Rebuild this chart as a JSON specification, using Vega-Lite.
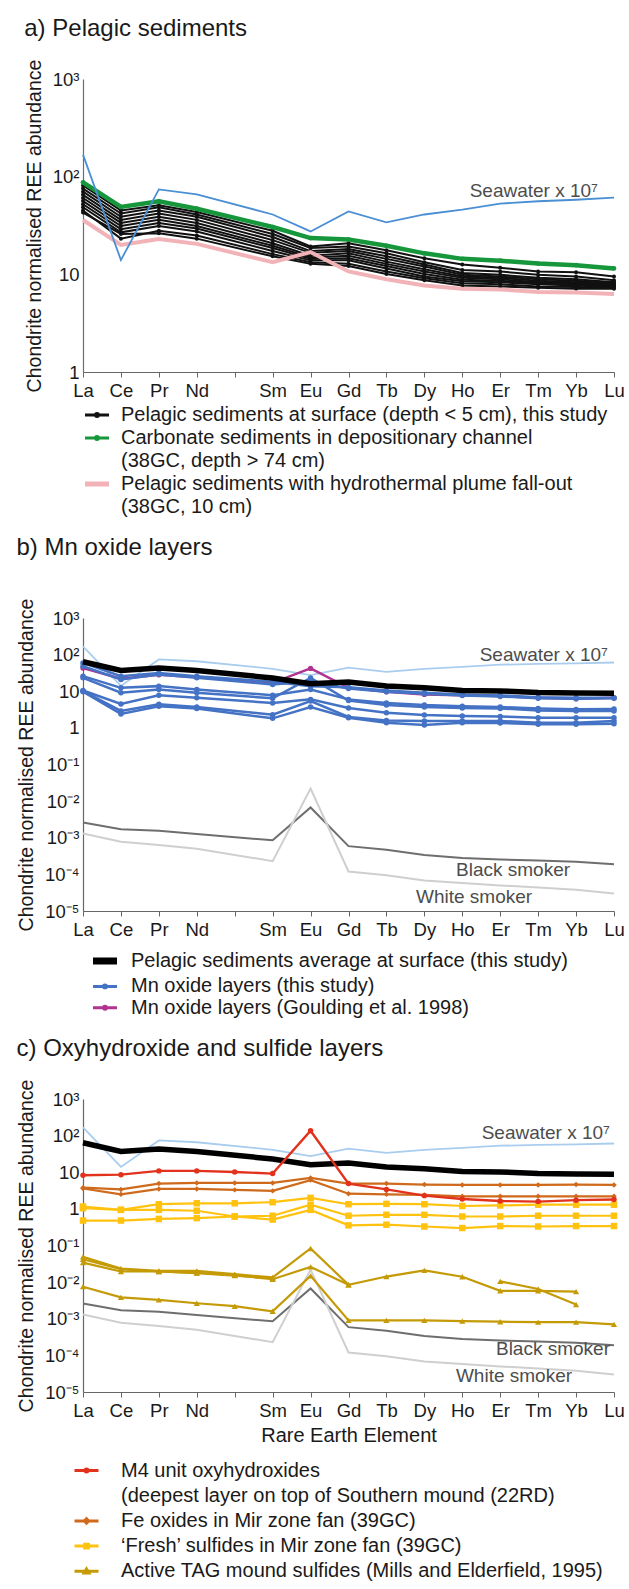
{
  "$schema": "https://vega.github.io/schema/vega-lite/v6.json",
  "padding": {"left": 16, "top": 17, "right": 5, "bottom": 5},
  "spacing": 19,
  "config": {
    "font": "Liberation Sans",
    "view": {"stroke": null},
    "axis": {"grid": false, "labelFont": "Liberation Sans", "titleFont": "Liberation Sans", "labelFontSize": 18.5, "titleFontSize": 19.5, "titleFontWeight": "normal", "labelColor": "#1a1a1a", "titleColor": "#1a1a1a", "domainColor": "#666666", "tickColor": "#666666", "domainWidth": 1.2, "labelOverlap": false},
    "title": {"anchor": "start", "frame": "bounds", "fontSize": 24, "fontWeight": "normal", "color": "#1a1a1a", "offset": 18, "font": "Liberation Sans"},
    "legend": {"labelFont": "Liberation Sans", "labelFontSize": 20, "labelColor": "#1a1a1a", "labelLimit": 800, "symbolSize": 576, "symbolStrokeWidth": 3, "padding": 0, "orient": "none", "direction": "vertical"},
    "text": {"font": "Liberation Sans"}
  },
  "resolve": {"scale": {"color": "independent", "stroke": "independent", "x": "independent", "y": "independent"}, "legend": {"color": "independent"}},
  "datasets": {
    "els": [{"el":"La","i":0},{"el":"Ce","i":1},{"el":"Pr","i":2},{"el":"Nd","i":3},{"el":"Pm","i":4},{"el":"Sm","i":5},{"el":"Eu","i":6},{"el":"Gd","i":7},{"el":"Tb","i":8},{"el":"Dy","i":9},{"el":"Ho","i":10},{"el":"Er","i":11},{"el":"Tm","i":12},{"el":"Yb","i":13},{"el":"Lu","i":14}],
    "sea": [{"s":"sea","La":168,"Ce":14,"Pr":74,"Nd":66,"Sm":41,"Eu":27.5,"Gd":44,"Tb":34,"Dy":41,"Ho":46,"Er":53,"Tm":56,"Yb":58,"Lu":61}],
    "smk": [
      {"s":"black","La":0.0026,"Ce":0.0017,"Pr":0.00155,"Nd":0.00127,"Sm":0.00085,"Eu":0.0067,"Gd":0.00059,"Tb":0.00047,"Dy":0.00034,"Ho":0.00028,"Er":0.000255,"Tm":0.00024,"Yb":0.00022,"Lu":0.00019},
      {"s":"white","La":0.0013,"Ce":0.00078,"Pr":0.00063,"Nd":0.0005,"Sm":0.00023,"Eu":0.022,"Gd":0.00012,"Tb":0.000095,"Dy":0.000068,"Ho":0.000058,"Er":0.00005,"Tm":0.000044,"Yb":0.000038,"Lu":0.00003}
    ],
    "avg": [{"s":"avg","g":"avg","La":64,"Ce":37,"Pr":43,"Nd":37,"Sm":23,"Eu":16,"Gd":18,"Tb":14,"Dy":12.5,"Ho":10.5,"Er":10.2,"Tm":9.2,"Yb":9.0,"Lu":8.8}],
    "sedA": [
      {"s":"b1","g":"sed","La":81.3,"Ce":45.1,"Pr":51.1,"Nd":43.5,"Sm":27.9,"Eu":19.3,"Gd":20.8,"Tb":17.6,"Dy":14.6,"Ho":12.6,"Er":11.7,"Tm":10.7,"Yb":10.5,"Lu":9.5},
      {"s":"b2","g":"sed","La":75.5,"Ce":41.9,"Pr":48.6,"Nd":41.0,"Sm":25.9,"Eu":18.6,"Gd":19.3,"Tb":16.4,"Dy":13.3,"Ho":11.1,"Er":10.7,"Tm":9.9,"Yb":9.5,"Lu":8.7},
      {"s":"b3","g":"sed","La":70.2,"Ce":38.9,"Pr":45.1,"Nd":38.9,"Sm":24.1,"Eu":17.3,"Gd":18.2,"Tb":15.3,"Dy":12.6,"Ho":10.3,"Er":9.9,"Tm":9.2,"Yb":8.9,"Lu":8.3},
      {"s":"b4","g":"sed","La":65.2,"Ce":36.1,"Pr":41.9,"Nd":36.1,"Sm":22.4,"Eu":16.6,"Gd":17.3,"Tb":14.4,"Dy":12.0,"Ho":9.9,"Er":9.5,"Tm":8.9,"Yb":8.6,"Lu":8.1},
      {"s":"b5","g":"sed","La":60.5,"Ce":33.6,"Pr":38.9,"Nd":33.6,"Sm":20.8,"Eu":15.5,"Gd":16.4,"Tb":13.5,"Dy":11.3,"Ho":9.5,"Er":9.2,"Tm":8.6,"Yb":8.3,"Lu":7.9},
      {"s":"b6","g":"sed","La":56.2,"Ce":31.2,"Pr":36.1,"Nd":31.2,"Sm":19.6,"Eu":14.9,"Gd":15.5,"Tb":12.8,"Dy":10.7,"Ho":9.2,"Er":8.9,"Tm":8.3,"Yb":8.1,"Lu":7.7},
      {"s":"b7","g":"sed","La":52.2,"Ce":29.0,"Pr":33.6,"Nd":29.4,"Sm":18.6,"Eu":14.4,"Gd":14.6,"Tb":12.2,"Dy":10.1,"Ho":8.8,"Er":8.6,"Tm":8.1,"Yb":7.9,"Lu":7.5},
      {"s":"b8","g":"sed","La":48.6,"Ce":26.9,"Pr":31.2,"Nd":27.5,"Sm":17.3,"Eu":13.9,"Gd":13.9,"Tb":11.5,"Dy":9.5,"Ho":8.5,"Er":8.3,"Tm":7.9,"Yb":7.7,"Lu":7.4},
      {"s":"b9","g":"sed","La":45.1,"Ce":23.2,"Pr":27.9,"Nd":25.0,"Sm":16.1,"Eu":13.3,"Gd":12.8,"Tb":10.7,"Dy":9.1,"Ho":8.1,"Er":7.9,"Tm":7.5,"Yb":7.4,"Lu":7.3},
      {"s":"b10","g":"sed","La":42.9,"Ce":25.9,"Pr":26.3,"Nd":23.2,"Sm":15.3,"Eu":12.8,"Gd":12.2,"Tb":10.1,"Dy":8.7,"Ho":7.7,"Er":7.5,"Tm":7.3,"Yb":7.1,"Lu":7.1},
      {"s":"g1","g":"carb","La":87.5,"Ce":49,"Pr":56,"Nd":47,"Sm":30.5,"Eu":23.5,"Gd":22.7,"Tb":19.6,"Dy":16.4,"Ho":14.4,"Er":13.8,"Tm":12.9,"Yb":12.4,"Lu":11.5},
      {"s":"p1","g":"plume","La":36,"Ce":20,"Pr":23,"Nd":20.5,"Sm":13.3,"Eu":16.9,"Gd":10.7,"Tb":8.9,"Dy":7.7,"Ho":7.1,"Er":7.0,"Tm":6.6,"Yb":6.5,"Lu":6.3}
    ],
    "mn": [
      {"s":"m1","g":"mn","La":59.3,"Ce":25.8,"Pr":31.7,"Nd":25.8,"Sm":18.1,"Eu":13.8,"Gd":12.9,"Tb":10.5,"Dy":9.1,"Ho":8.2,"Er":7.7,"Tm":6.9,"Yb":6.6,"Lu":6.6},
      {"s":"m2","g":"mn","La":48.2,"Ce":20.9,"Pr":28.6,"Nd":23.2,"Sm":15.3,"Eu":18.8,"Gd":11.9,"Tb":9.7,"Dy":8.5,"Ho":7.7,"Er":7.2,"Tm":6.4,"Yb":6.2,"Lu":6.4},
      {"s":"m3","g":"mn","La":25.8,"Ce":12.4,"Pr":13.8,"Nd":11.2,"Sm":7.8,"Eu":11.2,"Gd":6.0,"Tb":4.8,"Dy":4.2,"Ho":3.9,"Er":3.7,"Tm":3.4,"Yb":3.2,"Lu":3.3},
      {"s":"m4","g":"mn","La":23.2,"Ce":9.1,"Pr":11.2,"Nd":9.1,"Sm":6.4,"Eu":23.2,"Gd":5.6,"Tb":4.2,"Dy":3.7,"Ho":3.5,"Er":3.4,"Tm":3.0,"Yb":2.9,"Lu":2.9},
      {"s":"m5","g":"mn","La":10.5,"Ce":4.5,"Pr":7.8,"Nd":6.6,"Sm":4.8,"Eu":6.0,"Gd":3.5,"Tb":2.6,"Dy":2.24,"Ho":2.1,"Er":2.06,"Tm":1.89,"Yb":1.89,"Lu":1.89},
      {"s":"m6","g":"mn","La":10.1,"Ce":2.9,"Pr":4.4,"Nd":3.7,"Sm":2.3,"Eu":5.4,"Gd":1.98,"Tb":1.6,"Dy":1.54,"Ho":1.54,"Er":1.54,"Tm":1.38,"Yb":1.38,"Lu":1.54},
      {"s":"m7","g":"mn","La":9.7,"Ce":2.4,"Pr":3.9,"Nd":3.4,"Sm":1.82,"Eu":3.7,"Gd":1.89,"Tb":1.38,"Dy":1.2,"Ho":1.38,"Er":1.36,"Tm":1.25,"Yb":1.25,"Lu":1.3},
      {"s":"gl","g":"goul","La":43,"Ce":22,"Pr":28,"Nd":24,"Sm":17,"Eu":42,"Gd":12.4,"Tb":9.7,"Dy":8.2,"Ho":7.8,"Er":7.4,"Tm":6.6,"Yb":6.2,"Lu":6.6}
    ],
    "c": [
      {"s":"r1","g":"m4","La":8.3,"Ce":8.6,"Pr":10.9,"Nd":10.9,"Pm":10.2,"Sm":9.2,"Eu":136,"Gd":4.9,"Tb":3.4,"Dy":2.3,"Ho":1.86,"Er":1.64,"Tm":1.58,"Yb":1.73,"Lu":1.8},
      {"s":"f1","g":"fe","La":3.8,"Ce":3.4,"Pr":4.9,"Nd":5.1,"Pm":5.1,"Sm":5.1,"Eu":7.0,"Gd":4.9,"Tb":4.9,"Dy":4.6,"Ho":4.5,"Er":4.5,"Tm":4.5,"Yb":4.6,"Lu":4.5},
      {"s":"f2","g":"fe","La":3.6,"Ce":2.5,"Pr":3.5,"Nd":3.5,"Pm":3.3,"Sm":3.1,"Eu":6.1,"Gd":2.6,"Tb":2.5,"Dy":2.4,"Ho":2.2,"Er":2.2,"Tm":2.2,"Yb":2.2,"Lu":2.2},
      {"s":"y1","g":"fresh","La":1.16,"Ce":0.94,"Pr":1.34,"Nd":1.42,"Pm":1.42,"Sm":1.52,"Eu":2.0,"Gd":1.34,"Tb":1.37,"Dy":1.34,"Ho":1.2,"Er":1.24,"Tm":1.3,"Yb":1.3,"Lu":1.3},
      {"s":"y2","g":"fresh","La":1.04,"Ce":0.94,"Pr":0.94,"Nd":0.89,"Pm":0.62,"Sm":0.65,"Eu":1.3,"Gd":0.65,"Tb":0.69,"Dy":0.69,"Ho":0.62,"Er":0.62,"Tm":0.65,"Yb":0.65,"Lu":0.65},
      {"s":"y3","g":"fresh","La":0.48,"Ce":0.48,"Pr":0.53,"Nd":0.56,"Pm":0.62,"Sm":0.51,"Eu":0.94,"Gd":0.355,"Tb":0.37,"Dy":0.33,"Ho":0.3,"Er":0.34,"Tm":0.33,"Yb":0.34,"Lu":0.34},
      {"s":"t1","g":"tag","La":0.049,"Ce":0.0234,"Pr":0.0202,"Nd":0.0202,"Pm":0.0165,"Sm":0.0134,"Eu":0.083,"Gd":0.0085,"Tb":0.0142,"Dy":0.021,"Ho":0.014,"Er":0.0058,"Tm":0.0058,"Yb":0.0055},
      {"s":"t2","g":"tag","La":0.042,"Ce":0.0225,"Pr":0.0195,"Nd":0.018,"Pm":0.0154,"Sm":0.012,"Eu":0.026,"Gd":0.0085},
      {"s":"t3","g":"tag","La":0.034,"Ce":0.0195,"Pr":0.0195,"Nd":0.0177,"Pm":0.015,"Sm":0.0126},
      {"s":"t4","g":"tag","La":0.0075,"Ce":0.00385,"Pr":0.00327,"Nd":0.00265,"Pm":0.0022,"Sm":0.0016,"Eu":0.0148,"Gd":0.0009,"Tb":0.0009,"Dy":0.0009,"Ho":0.00086,"Er":0.00083,"Tm":0.00081,"Yb":0.00081,"Lu":0.0007},
      {"s":"t5","g":"tag","Er":0.0105,"Tm":0.0065,"Yb":0.00245}
    ],
    "annA": [{"t":"Seawater x 10⁷","el":"Lu","v":72}],
    "annB": [{"t":"Seawater x 10⁷","el":"Lu","v":98},{"t":"Black smoker","el":"Yb","v":0.00013},{"t":"White smoker","el":"Tm","v":0.000024}],
    "annC": [{"t":"Seawater x 10⁷","el":"Lu","v":118},{"t":"Black smoker","el":"Lu","v":0.00015},{"t":"White smoker","el":"Yb","v":0.000027}]
  },
  "vconcat": [
    {
      "title": {"text": "a) Pelagic sediments"},
      "width": 531, "height": 293,
      "encoding": {
        "x": {"field": "i", "type": "quantitative", "scale": {"domain": [0, 14], "nice": false, "zero": false},
              "axis": {"values": [0,1,2,3,4,5,6,7,8,9,10,11,12,13,14], "labelExpr": "['La','Ce','Pr','Nd','','Sm','Eu','Gd','Tb','Dy','Ho','Er','Tm','Yb','Lu'][datum.value]", "title": null, "tickSize": 5, "labelPadding": 4, "labelFlush": false}},
        "y": {"field": "v", "type": "quantitative", "scale": {"type": "log", "domain": [1, 1000], "nice": false},
              "axis": {"values": [1, 10, 100, 1000], "labelExpr": "datum.value >= 999 ? '10³' : datum.value >= 99 ? '10²' : datum.value >= 9 ? '10' : datum.value >= 0.9 ? '1' : datum.value >= 0.09 ? '10⁻¹' : datum.value >= 0.009 ? '10⁻²' : datum.value >= 0.0009 ? '10⁻³' : datum.value >= 0.00009 ? '10⁻⁴' : '10⁻⁵'", "title": "Chondrite normalised REE abundance", "ticks": false, "domainColor": "#6e6a82", "labelPadding": 4, "titlePadding": 8}}
      },
      "layer": [
        {
          "data": {"name": "sedA"},
          "transform": [{"fold": ["La","Ce","Pr","Nd","Pm","Sm","Eu","Gd","Tb","Dy","Ho","Er","Tm","Yb","Lu"], "as": ["el","v"]}, {"filter": "isValid(datum.v)"}, {"lookup": "el", "from": {"data": {"name": "els"}, "key": "el", "fields": ["i"]}}, {"filter": "datum.g === 'sed'"}],
          "mark": {"type": "line", "strokeWidth": 2, "point": {"filled": true, "size": 16}},
          "encoding": {
            "color": {"field": "g", "type": "nominal",
              "scale": {"domain": ["sed","carb","carb2","plume","plume2"], "range": ["#111111","#16973c","transparent","#f2b3b8","transparent"]},
              "legend": {"title": null, "legendX": 4, "legendY": 326, "rowPadding": 3, "labelOffset": 14,
                "labelExpr": "{'sed':'Pelagic sediments at surface (depth < 5 cm), this study','carb':'Carbonate sediments in depositionary channel','carb2':'(38GC, depth > 74 cm)','plume':'Pelagic sediments with hydrothermal plume fall-out','plume2':'(38GC, 10 cm)'}[datum.label]",
                "encode": {"symbols": {"update": {"shape": {"signal": "datum.value === 'plume' ? 'M-1,0H1' : 'M-1,0H1M0.12,0A0.12,0.12 0 1 1 -0.12,0A0.12,0.12 0 1 1 0.12,0Z'"}, "strokeWidth": {"signal": "datum.value === 'plume' ? 5 : 3"}, "fill": {"value": "transparent"}}}}}},
            "detail": {"field": "s"}
          }
        },
        {
          "data": {"name": "sedA"},
          "transform": [{"fold": ["La","Ce","Pr","Nd","Pm","Sm","Eu","Gd","Tb","Dy","Ho","Er","Tm","Yb","Lu"], "as": ["el","v"]}, {"filter": "isValid(datum.v)"}, {"lookup": "el", "from": {"data": {"name": "els"}, "key": "el", "fields": ["i"]}}, {"filter": "datum.g === 'carb'"}],
          "mark": {"type": "line", "strokeWidth": 4.5, "point": {"filled": true, "size": 22}},
          "encoding": {"color": {"field": "g", "type": "nominal"}}
        },
        {
          "data": {"name": "sedA"},
          "transform": [{"fold": ["La","Ce","Pr","Nd","Pm","Sm","Eu","Gd","Tb","Dy","Ho","Er","Tm","Yb","Lu"], "as": ["el","v"]}, {"filter": "isValid(datum.v)"}, {"lookup": "el", "from": {"data": {"name": "els"}, "key": "el", "fields": ["i"]}}, {"filter": "datum.g === 'plume'"}],
          "mark": {"type": "line", "strokeWidth": 4},
          "encoding": {"color": {"field": "g", "type": "nominal"}}
        },
        {
          "data": {"name": "sea"},
          "transform": [{"fold": ["La","Ce","Pr","Nd","Pm","Sm","Eu","Gd","Tb","Dy","Ho","Er","Tm","Yb","Lu"], "as": ["el","v"]}, {"filter": "isValid(datum.v)"}, {"lookup": "el", "from": {"data": {"name": "els"}, "key": "el", "fields": ["i"]}}],
          "mark": {"type": "line", "color": "#4a8fd4", "strokeWidth": 1.8},
          "encoding": {}
        },
        {
          "data": {"name": "annA"},
          "transform": [{"lookup": "el", "from": {"data": {"name": "els"}, "key": "el", "fields": ["i"]}}],
          "mark": {"type": "text", "align": "right", "baseline": "middle", "dx": -16, "fontSize": 19, "color": "#4d4d4d"},
          "encoding": {"text": {"field": "t"}}
        }
      ]
    },
    {
      "title": {"text": "b) Mn oxide layers", "offset": 38},
      "width": 531, "height": 293,
      "encoding": {
        "x": {"field": "i", "type": "quantitative", "scale": {"domain": [0, 14], "nice": false, "zero": false},
              "axis": {"values": [0,1,2,3,4,5,6,7,8,9,10,11,12,13,14], "labelExpr": "['La','Ce','Pr','Nd','','Sm','Eu','Gd','Tb','Dy','Ho','Er','Tm','Yb','Lu'][datum.value]", "title": null, "tickSize": 5, "labelPadding": 4, "labelFlush": false}},
        "y": {"field": "v", "type": "quantitative", "scale": {"type": "log", "domain": [0.00001, 1000], "nice": false},
              "axis": {"values": [0.00001, 0.0001, 0.001, 0.01, 0.1, 1, 10, 100, 1000], "labelExpr": "datum.value >= 999 ? '10³' : datum.value >= 99 ? '10²' : datum.value >= 9 ? '10' : datum.value >= 0.9 ? '1' : datum.value >= 0.09 ? '10⁻¹' : datum.value >= 0.009 ? '10⁻²' : datum.value >= 0.0009 ? '10⁻³' : datum.value >= 0.00009 ? '10⁻⁴' : '10⁻⁵'", "title": "Chondrite normalised REE abundance", "ticks": false, "labelPadding": 4, "titlePadding": 8}}
      },
      "layer": [
        {
          "data": {"name": "smk"},
          "transform": [{"fold": ["La","Ce","Pr","Nd","Pm","Sm","Eu","Gd","Tb","Dy","Ho","Er","Tm","Yb","Lu"], "as": ["el","v"]}, {"filter": "isValid(datum.v)"}, {"lookup": "el", "from": {"data": {"name": "els"}, "key": "el", "fields": ["i"]}}],
          "mark": {"type": "line", "strokeWidth": 2},
          "encoding": {"stroke": {"field": "s", "type": "nominal", "scale": {"domain": ["black","white"], "range": ["#6e6e6e","#cfcfcf"]}, "legend": null}}
        },
        {
          "data": {"name": "sea"},
          "transform": [{"fold": ["La","Ce","Pr","Nd","Pm","Sm","Eu","Gd","Tb","Dy","Ho","Er","Tm","Yb","Lu"], "as": ["el","v"]}, {"filter": "isValid(datum.v)"}, {"lookup": "el", "from": {"data": {"name": "els"}, "key": "el", "fields": ["i"]}}],
          "mark": {"type": "line", "color": "#a9cdee", "strokeWidth": 1.8},
          "encoding": {}
        },
        {
          "data": {"name": "mn"},
          "transform": [{"fold": ["La","Ce","Pr","Nd","Pm","Sm","Eu","Gd","Tb","Dy","Ho","Er","Tm","Yb","Lu"], "as": ["el","v"]}, {"filter": "isValid(datum.v)"}, {"lookup": "el", "from": {"data": {"name": "els"}, "key": "el", "fields": ["i"]}}, {"filter": "datum.g === 'goul'"}],
          "mark": {"type": "line", "strokeWidth": 2.5, "point": {"filled": true, "size": 28}},
          "encoding": {
            "color": {"field": "g", "type": "nominal",
              "scale": {"domain": ["avg","mn","goul"], "range": ["#000000","#4472c4","#b0338f"]},
              "legend": {"title": null, "legendX": 12, "legendY": 333, "rowPadding": 1.4, "labelOffset": 16,
                "labelExpr": "{'avg':'Pelagic sediments average at surface (this study)','mn':'Mn oxide layers (this study)','goul':'Mn oxide layers (Goulding et al. 1998)'}[datum.label]",
                "encode": {"symbols": {"update": {"shape": {"signal": "datum.value === 'avg' ? 'M-1,0H1' : 'M-1,0H1M0.12,0A0.12,0.12 0 1 1 -0.12,0A0.12,0.12 0 1 1 0.12,0Z'"}, "strokeWidth": {"signal": "datum.value === 'avg' ? 7 : 3"}, "fill": {"value": "transparent"}}}}}},
            "detail": {"field": "s"}
          }
        },
        {
          "data": {"name": "mn"},
          "transform": [{"fold": ["La","Ce","Pr","Nd","Pm","Sm","Eu","Gd","Tb","Dy","Ho","Er","Tm","Yb","Lu"], "as": ["el","v"]}, {"filter": "isValid(datum.v)"}, {"lookup": "el", "from": {"data": {"name": "els"}, "key": "el", "fields": ["i"]}}, {"filter": "datum.g === 'mn'"}],
          "mark": {"type": "line", "strokeWidth": 2.5, "point": {"filled": true, "size": 30}},
          "encoding": {"color": {"field": "g", "type": "nominal"}, "detail": {"field": "s"}}
        },
        {
          "data": {"name": "avg"},
          "transform": [{"fold": ["La","Ce","Pr","Nd","Pm","Sm","Eu","Gd","Tb","Dy","Ho","Er","Tm","Yb","Lu"], "as": ["el","v"]}, {"filter": "isValid(datum.v)"}, {"lookup": "el", "from": {"data": {"name": "els"}, "key": "el", "fields": ["i"]}}],
          "mark": {"type": "line", "strokeWidth": 5.5},
          "encoding": {"color": {"field": "g", "type": "nominal"}}
        },
        {
          "data": {"name": "annB"},
          "transform": [{"lookup": "el", "from": {"data": {"name": "els"}, "key": "el", "fields": ["i"]}}],
          "mark": {"type": "text", "align": "right", "baseline": "middle", "dx": -6, "fontSize": 19, "color": "#4d4d4d"},
          "encoding": {"text": {"field": "t"}}
        }
      ]
    },
    {
      "title": {"text": "c) Oxyhydroxide and sulfide layers"},
      "width": 531, "height": 293,
      "encoding": {
        "x": {"field": "i", "type": "quantitative", "scale": {"domain": [0, 14], "nice": false, "zero": false},
              "axis": {"values": [0,1,2,3,4,5,6,7,8,9,10,11,12,13,14], "labelExpr": "['La','Ce','Pr','Nd','','Sm','Eu','Gd','Tb','Dy','Ho','Er','Tm','Yb','Lu'][datum.value]", "title": "Rare Earth Element", "titleFontSize": 20, "titlePadding": 6, "tickSize": 5, "labelPadding": 4, "labelFlush": false}},
        "y": {"field": "v", "type": "quantitative", "scale": {"type": "log", "domain": [0.00001, 1000], "nice": false},
              "axis": {"values": [0.00001, 0.0001, 0.001, 0.01, 0.1, 1, 10, 100, 1000], "labelExpr": "datum.value >= 999 ? '10³' : datum.value >= 99 ? '10²' : datum.value >= 9 ? '10' : datum.value >= 0.9 ? '1' : datum.value >= 0.09 ? '10⁻¹' : datum.value >= 0.009 ? '10⁻²' : datum.value >= 0.0009 ? '10⁻³' : datum.value >= 0.00009 ? '10⁻⁴' : '10⁻⁵'", "title": "Chondrite normalised REE abundance", "ticks": false, "labelPadding": 4, "titlePadding": 8}}
      },
      "layer": [
        {
          "data": {"name": "smk"},
          "transform": [{"fold": ["La","Ce","Pr","Nd","Pm","Sm","Eu","Gd","Tb","Dy","Ho","Er","Tm","Yb","Lu"], "as": ["el","v"]}, {"filter": "isValid(datum.v)"}, {"lookup": "el", "from": {"data": {"name": "els"}, "key": "el", "fields": ["i"]}}],
          "mark": {"type": "line", "strokeWidth": 2},
          "encoding": {"stroke": {"field": "s", "type": "nominal", "scale": {"domain": ["black","white"], "range": ["#6e6e6e","#cfcfcf"]}, "legend": null}}
        },
        {
          "data": {"name": "sea"},
          "transform": [{"fold": ["La","Ce","Pr","Nd","Pm","Sm","Eu","Gd","Tb","Dy","Ho","Er","Tm","Yb","Lu"], "as": ["el","v"]}, {"filter": "isValid(datum.v)"}, {"lookup": "el", "from": {"data": {"name": "els"}, "key": "el", "fields": ["i"]}}],
          "mark": {"type": "line", "color": "#a9cdee", "strokeWidth": 1.8},
          "encoding": {}
        },
        {
          "data": {"name": "avg"},
          "transform": [{"fold": ["La","Ce","Pr","Nd","Pm","Sm","Eu","Gd","Tb","Dy","Ho","Er","Tm","Yb","Lu"], "as": ["el","v"]}, {"filter": "isValid(datum.v)"}, {"lookup": "el", "from": {"data": {"name": "els"}, "key": "el", "fields": ["i"]}}],
          "mark": {"type": "line", "strokeWidth": 5.5, "color": "#000000"},
          "encoding": {}
        },
        {
          "data": {"name": "c"},
          "transform": [{"fold": ["La","Ce","Pr","Nd","Pm","Sm","Eu","Gd","Tb","Dy","Ho","Er","Tm","Yb","Lu"], "as": ["el","v"]}, {"filter": "isValid(datum.v)"}, {"lookup": "el", "from": {"data": {"name": "els"}, "key": "el", "fields": ["i"]}}, {"filter": "datum.g === 'tag'"}],
          "mark": {"type": "line", "strokeWidth": 2.2, "point": {"filled": true, "size": 38, "shape": "triangle-up"}},
          "encoding": {
            "color": {"field": "g", "type": "nominal",
              "scale": {"domain": ["m4","m4b","fe","fresh","tag"], "range": ["#e2321c","transparent","#cf6a1c","#ffc20e","#c49a06"]},
              "legend": {"title": null, "legendX": -10, "legendY": 358, "rowPadding": 1.2, "labelOffset": 21,
                "labelExpr": "{'m4':'M4 unit oxyhydroxides','m4b':'(deepest layer on top of Southern mound (22RD)','fe':'Fe oxides in Mir zone fan (39GC)','fresh':'‘Fresh’ sulfides in Mir zone fan (39GC)','tag':'Active TAG mound sulfides (Mills and Elderfield, 1995)'}[datum.label]",
                "encode": {"symbols": {"update": {"shape": {"signal": "datum.value === 'fe' ? 'M-1,0H1M0,-0.18L0.18,0L0,0.18L-0.18,0Z' : datum.value === 'fresh' ? 'M-1,0H1M-0.15,-0.15H0.15V0.15H-0.15Z' : datum.value === 'tag' ? 'M-1,0H1M0,-0.2L0.2,0.14H-0.2Z' : 'M-1,0H1M0.12,0A0.12,0.12 0 1 1 -0.12,0A0.12,0.12 0 1 1 0.12,0Z'"}, "strokeWidth": {"value": 3}, "fill": {"value": "transparent"}}}}}},
            "detail": {"field": "s"}
          }
        },
        {
          "data": {"name": "c"},
          "transform": [{"fold": ["La","Ce","Pr","Nd","Pm","Sm","Eu","Gd","Tb","Dy","Ho","Er","Tm","Yb","Lu"], "as": ["el","v"]}, {"filter": "isValid(datum.v)"}, {"lookup": "el", "from": {"data": {"name": "els"}, "key": "el", "fields": ["i"]}}, {"filter": "datum.g === 'fresh'"}],
          "mark": {"type": "line", "strokeWidth": 2.2, "point": {"filled": true, "size": 42, "shape": "square"}},
          "encoding": {"color": {"field": "g", "type": "nominal"}, "detail": {"field": "s"}}
        },
        {
          "data": {"name": "c"},
          "transform": [{"fold": ["La","Ce","Pr","Nd","Pm","Sm","Eu","Gd","Tb","Dy","Ho","Er","Tm","Yb","Lu"], "as": ["el","v"]}, {"filter": "isValid(datum.v)"}, {"lookup": "el", "from": {"data": {"name": "els"}, "key": "el", "fields": ["i"]}}, {"filter": "datum.g === 'fe'"}],
          "mark": {"type": "line", "strokeWidth": 2.2, "point": {"filled": true, "size": 30, "shape": "diamond"}},
          "encoding": {"color": {"field": "g", "type": "nominal"}, "detail": {"field": "s"}}
        },
        {
          "data": {"name": "c"},
          "transform": [{"fold": ["La","Ce","Pr","Nd","Pm","Sm","Eu","Gd","Tb","Dy","Ho","Er","Tm","Yb","Lu"], "as": ["el","v"]}, {"filter": "isValid(datum.v)"}, {"lookup": "el", "from": {"data": {"name": "els"}, "key": "el", "fields": ["i"]}}, {"filter": "datum.g === 'm4'"}],
          "mark": {"type": "line", "strokeWidth": 2.4, "point": {"filled": true, "size": 30}},
          "encoding": {"color": {"field": "g", "type": "nominal"}, "detail": {"field": "s"}}
        },
        {
          "data": {"name": "annC"},
          "transform": [{"lookup": "el", "from": {"data": {"name": "els"}, "key": "el", "fields": ["i"]}}],
          "mark": {"type": "text", "align": "right", "baseline": "middle", "dx": -4, "fontSize": 19, "color": "#4d4d4d"},
          "encoding": {"text": {"field": "t"}}
        }
      ]
    }
  ]
}
